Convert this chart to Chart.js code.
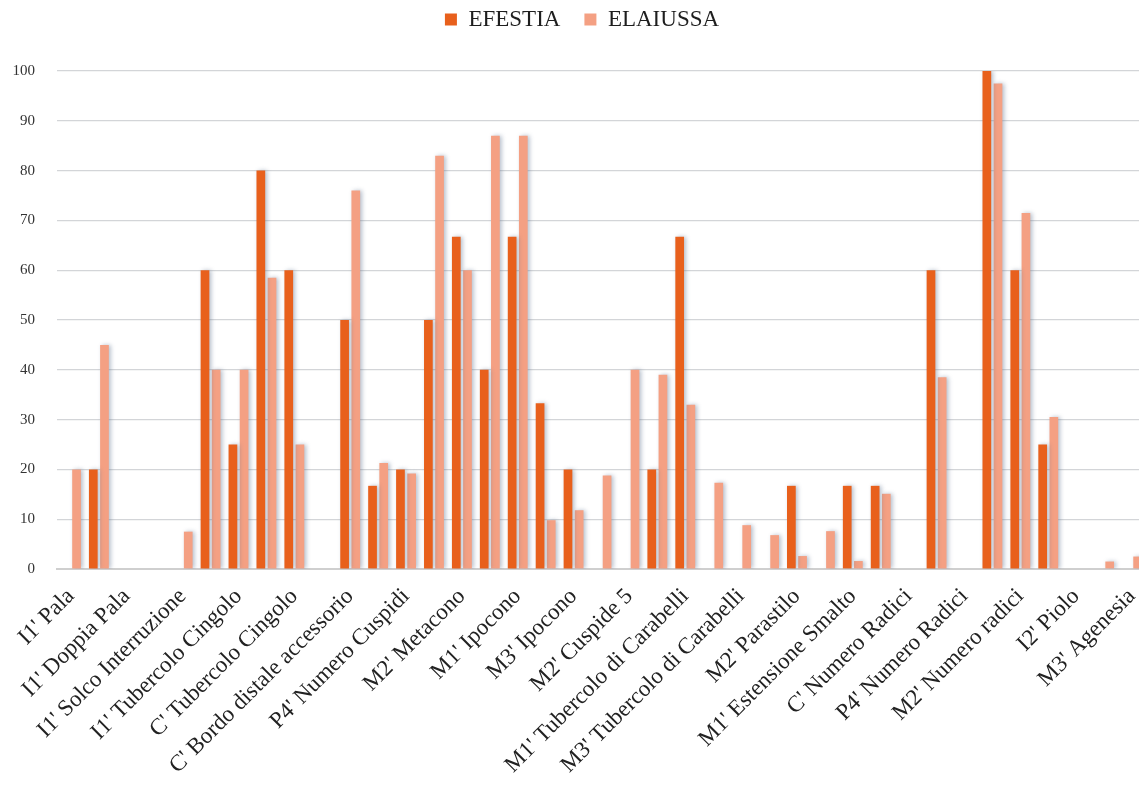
<!DOCTYPE html>
<html>
<head>
<meta charset="utf-8">
<script src="https://cdn.jsdelivr.net/npm/chart.js@4/dist/chart.umd.min.js"></script>
<style>
  html, body { margin: 0; padding: 0; background: #fff; overflow: hidden; }
</style>
</head>
<body>
<canvas id="tratti" width="1160" height="788"></canvas>
<script>
// categorie (solo quelle pari compaiono sotto l'asse)
const categorie = [
    "I1' Pala", "I2' Pala", "I1' Doppia Pala", "I2' Doppia Pala",
    "I1' Solco Interruzione", "I2' Solco Interruzione", "I1' Tubercolo Cingolo", "I2' Tubercolo Cingolo",
    "C' Tubercolo Cingolo", "C' Cresta mesiale", "C' Bordo distale accessorio", "P3' Numero Cuspidi",
    "P4' Numero Cuspidi", "M1' Metacono", "M2' Metacono", "M3' Metacono",
    "M1' Ipocono", "M2' Ipocono", "M3' Ipocono", "M1' Cuspide 5",
    "M2' Cuspide 5", "M3' Cuspide 5", "M1' Tubercolo di Carabelli", "M2' Tubercolo di Carabelli",
    "M3' Tubercolo di Carabelli", "M1' Parastilo", "M2' Parastilo", "M3' Parastilo",
    "M1' Estensione Smalto", "M2' Estensione Smalto", "C' Numero Radici", "P3' Numero Radici",
    "P4' Numero Radici", "M1' Numero radici", "M2' Numero radici", "M3' Numero radici",
    "I2' Piolo", "M3' Riduzione", "M3' Agenesia"
];

const efestia = [
    0, 20, 0, 0, 0, 60, 25, 80, 60, 0,
    50, 16.7, 20, 50, 66.7, 40, 66.7, 33.3, 20, 0,
    0, 20, 66.7, 0, 0, 0, 16.7, 0, 16.7, 16.7,
    0, 60, 0, 100, 60, 25, 0, 0, 0
];

const elaiussa = [
    20, 45, 0, 0, 7.5, 40, 40, 58.5, 25, 0,
    76, 21.3, 19.2, 83, 60, 87, 87, 9.8, 11.8, 18.8,
    40, 39, 33, 17.3, 8.8, 6.8, 2.6, 7.6, 1.6, 15.1,
    0, 38.5, 0, 97.5, 71.5, 30.5, 0, 1.5, 2.5
];

const tickY = [0, 10, 20, 30, 40, 50, 60, 70, 80, 90, 100];

const serif = '"Liberation Serif", "DejaVu Serif", serif';

// ombra grigio-azzurra dietro le barre, come nel grafico originale
const ombra = {
    id: 'ombra',
    beforeDatasetsDraw(chart) {
        const ctx = chart.ctx;
        ctx.save();
        ctx.shadowColor = 'rgba(95, 115, 145, 0.45)';
        ctx.shadowBlur = 4;
        ctx.shadowOffsetX = 2;
        ctx.shadowOffsetY = 0;
    },
    afterDatasetsDraw(chart) {
        chart.ctx.restore();
    }
};

// altezza fissa della legenda e leggero spostamento a destra
const legendaAlta = {
    id: 'legendaAlta',
    beforeInit(chart) {
        const fit = chart.legend.fit;
        chart.legend.fit = function () {
            fit.call(this);
            this.height = 87;
        };
    },
    afterLayout(chart) {
        chart.legend.left += 9;
        chart.legend.right += 9;
    }
};

const ctx = document.getElementById('tratti').getContext('2d');
new Chart(ctx, {
    type: 'bar',
    data: {
        labels: categorie,
        datasets: [
            {
                label: 'EFESTIA',
                data: efestia,
                backgroundColor: '#E8601C',
                categoryPercentage: 0.8,
                barPercentage: 0.78
            },
            {
                label: 'ELAIUSSA',
                data: elaiussa,
                backgroundColor: '#F4A083',
                categoryPercentage: 0.8,
                barPercentage: 0.78
            }
        ]
    },
    options: {
        responsive: false,
        animation: false,
        devicePixelRatio: 1,
        layout: {
            padding: { left: 0, right: 14, top: -16, bottom: 0 }
        },
        plugins: {
            legend: {
                position: 'top',
                labels: {
                    boxWidth: 12,
                    boxHeight: 12,
                    padding: 24,
                    color: '#1e1e1e',
                    font: { family: serif, size: 23 }
                }
            },
            tooltip: { enabled: false }
        },
        scales: {
            x: {
                grid: { display: false },
                border: { display: true, color: '#CFCFCF', width: 2 },
                ticks: {
                    autoSkip: false,
                    minRotation: 45,
                    maxRotation: 45,
                    padding: 6,
                    color: '#222',
                    font: { family: serif, size: 23 },
                    callback: (v, i) => (i % 2 === 0 ? categorie[i] : '')
                },
                afterFit: (scale) => { scale.height = 219; }
            },
            y: {
                min: 0,
                max: 100,
                border: { display: false },
                grid: { color: '#D3D5D8', lineWidth: 1.2, drawTicks: false },
                afterBuildTicks: (scale) => { scale.ticks = tickY.map(v => ({ value: v })); },
                ticks: {
                    padding: 22,
                    color: '#333',
                    font: { family: serif, size: 15 }
                },
                afterFit: (scale) => { scale.width = 57; }
            }
        }
    },
    plugins: [ombra, legendaAlta]
});
</script>
</body>
</html>
